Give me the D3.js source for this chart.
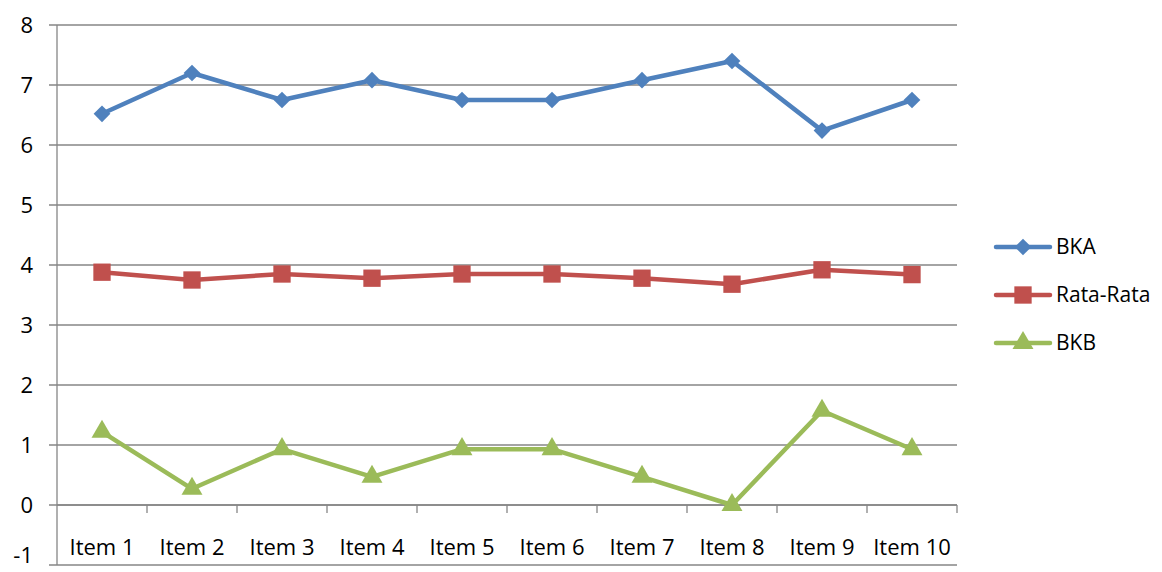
<!DOCTYPE html>
<html>
<head>
<meta charset="utf-8">
<script src="https://d3js.org/d3.v7.min.js"></script>
<style>
  body { margin: 0; background: #fff; }
  text { font-family: "Open Sans", sans-serif; fill: #000; }
</style>
</head>
<body>
<div id="chart"></div>
<script>
// data
const items = ["Item 1", "Item 2", "Item 3", "Item 4", "Item 5", "Item 6", "Item 7", "Item 8", "Item 9", "Item 10"];
const bka = [6.52, 7.2, 6.75, 7.08, 6.75, 6.75, 7.08, 7.4, 6.24, 6.75];
const rataRata = [3.88, 3.75, 3.85, 3.78, 3.85, 3.85, 3.78, 3.68, 3.92, 3.84];
const bkb = [1.22, 0.27, 0.93, 0.47, 0.93, 0.93, 0.47, 0, 1.57, 0.93];
const yTicks = [-1, 0, 1, 2, 3, 4, 5, 6, 7, 8];

const series = [
  { name: "BKA", values: bka, color: "#4F81BD", symbol: d3.symbolSquare, size: 140, rotate: 45 },
  { name: "Rata-Rata", values: rataRata, color: "#C0504D", symbol: d3.symbolSquare, size: 300, rotate: 0 },
  { name: "BKB", values: bkb, color: "#9BBB59", symbol: d3.symbolTriangle, size: 190, rotate: 0 }
];

const W = 1162, H = 572;
const plotLeft = 57, plotRight = 957, plotTop = 25, plotBottom = 565;

const svg = d3.select("#chart").append("svg")
  .attr("width", W).attr("height", H);

const x = d3.scaleBand().domain(items).range([plotLeft, plotRight]);
const y = d3.scaleLinear().domain([-1, 8]).range([plotBottom, plotTop]);

// gridlines with left ticks
svg.append("g")
  .selectAll("line")
  .data(yTicks)
  .join("line")
  .attr("x1", plotLeft - 8).attr("x2", plotRight)
  .attr("y1", d => y(d)).attr("y2", d => y(d))
  .attr("stroke", "#868686").attr("stroke-width", 1.3);

// y axis line
svg.append("line")
  .attr("x1", plotLeft).attr("x2", plotLeft)
  .attr("y1", y(8)).attr("y2", y(-1))
  .attr("stroke", "#868686").attr("stroke-width", 1.3);

// labels; the lowest one is nudged up so it stays inside the picture
svg.append("g")
  .selectAll("text")
  .data(yTicks)
  .join("text")
  .attr("x", 33).attr("y", d => Math.min(y(d), 555))
  .attr("dy", "0.35em")
  .attr("text-anchor", "end")
  .style("font-size", "22px")
  .text(d => d);

// x axis at 0 with tick marks at category boundaries
const xg = svg.append("g").attr("transform", `translate(0,${y(0)})`);
xg.append("line")
  .attr("x1", plotLeft).attr("x2", plotRight)
  .attr("stroke", "#868686").attr("stroke-width", 1.3);
xg.selectAll(".bound")
  .data(items)
  .join("line")
  .attr("class", "bound")
  .attr("x1", d => x(d) + x.step())
  .attr("x2", d => x(d) + x.step())
  .attr("y1", 0).attr("y2", 8)
  .attr("stroke", "#868686").attr("stroke-width", 1.3);

svg.append("g")
  .selectAll("text")
  .data(items)
  .join("text")
  .attr("x", d => x(d) + x.bandwidth() / 2)
  .attr("y", 547)
  .attr("dy", "0.35em")
  .attr("text-anchor", "middle")
  .style("font-size", "22px")
  .text(d => d);

// series lines and markers
const line = d3.line()
  .x((d, i) => x(items[i]) + x.bandwidth() / 2)
  .y(d => y(d));

series.forEach(s => {
  svg.append("path")
    .datum(s.values)
    .attr("d", line)
    .attr("fill", "none")
    .attr("stroke", s.color)
    .attr("stroke-width", 4.5)
    .attr("stroke-linejoin", "round");

  svg.append("g")
    .selectAll("path")
    .data(s.values)
    .join("path")
    .attr("transform", (d, i) => `translate(${x(items[i]) + x.bandwidth() / 2},${y(d)}) rotate(${s.rotate})`)
    .attr("d", d3.symbol().type(s.symbol).size(s.size))
    .attr("fill", s.color);
});

// legend
const legend = svg.append("g")
  .selectAll("g")
  .data(series)
  .join("g")
  .attr("transform", (d, i) => `translate(996,${247 + i * 48})`);

legend.append("line")
  .attr("x1", 0).attr("x2", 54)
  .attr("stroke", d => d.color)
  .attr("stroke-width", 4.5)
  .attr("stroke-linecap", "round");

legend.append("path")
  .attr("transform", d => `translate(27,0) rotate(${d.rotate})`)
  .attr("d", d => d3.symbol().type(d.symbol).size(d.size)())
  .attr("fill", d => d.color);

legend.append("text")
  .attr("x", 60)
  .attr("dy", "0.35em")
  .style("font-size", "21px")
  .text(d => d.name);
</script>
</body>
</html>
